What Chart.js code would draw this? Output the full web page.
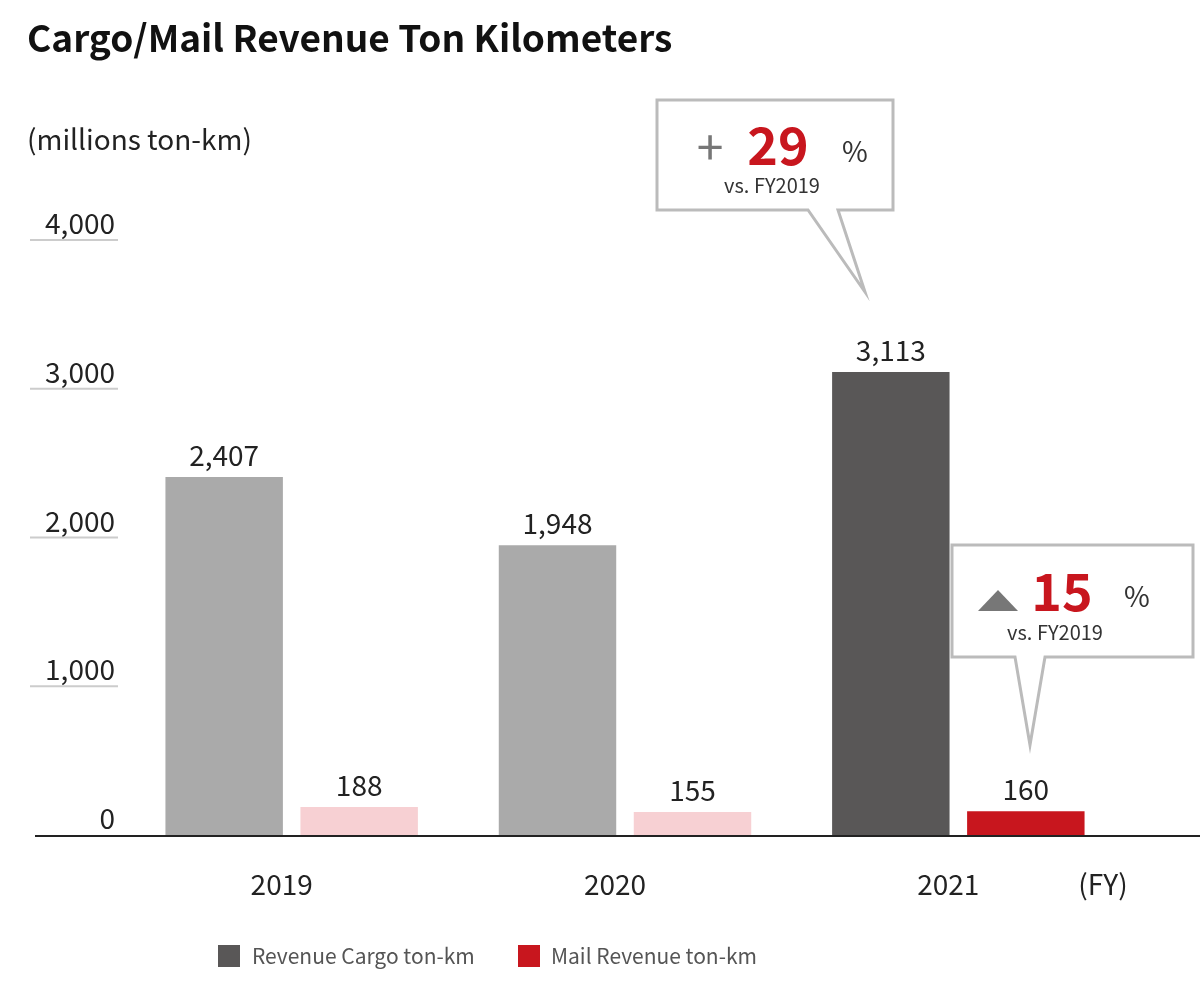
<!DOCTYPE html>
<html><head><meta charset="utf-8">
<script src="https://cdn.jsdelivr.net/npm/chart.js@4"></script>
<style>html,body{margin:0;padding:0;background:#fff}#w{position:absolute;left:0;top:0;width:1200px;height:985px}</style>
</head><body><div id="w"><canvas id="c"></canvas></div>
<script>
const categories = ["2019","2020","2021"];
const cargoValues = [2407,1948,3113];
const mailValues = [188,155,160];
const yTicks = [0,1000,2000,3000,4000];
const cargoLabel = "Revenue Cargo ton-km";
const mailLabel = "Mail Revenue ton-km";
const F = '"Noto Sans CJK JP","Noto Sans",sans-serif';
const fmt = v => v.toLocaleString('en-US');

const deco = {
  id:'deco',
  afterDatasetsDraw(ch){
    const c = ch.ctx, y = ch.scales.y, x = ch.scales.x;
    c.save();
    // title
    c.fillStyle='#111'; c.font='bold 37px '+F; c.textBaseline='alphabetic'; c.textAlign='left';
    c.fillText('Cargo/Mail Revenue Ton Kilometers',27,52);
    c.fillStyle='#222'; c.font='28px '+F;
    c.fillText('(millions ton-km)',27,150);
    // y ticks
    yTicks.forEach(t=>{
      const py = y.getPixelForValue(t);
      c.fillStyle='#222'; c.font='28px '+F; c.textAlign='right';
      c.fillText(fmt(t),115,py-6);
      if(t>0){c.strokeStyle='#ccc';c.lineWidth=2;c.beginPath();c.moveTo(30,py);c.lineTo(118,py);c.stroke();}
    });
    // baseline
    const p0=y.getPixelForValue(0);
    c.strokeStyle='#222';c.lineWidth=2;c.beginPath();c.moveTo(35,p0+1);c.lineTo(1200,p0+1);c.stroke();
    // x labels
    c.textAlign='center'; c.font='28px '+F; c.fillStyle='#222';
    categories.forEach((k,i)=>c.fillText(k,x.getPixelForValue(i)-10,895));
    c.fillText('(FY)',1103,895);
    // value labels
    ch.data.datasets.forEach((ds,di)=>{
      ch.getDatasetMeta(di).data.forEach((b,i)=>{
        c.fillText(fmt(ds.data[i]),b.x,b.y-11);
      });
    });
    // legend
    c.fillStyle='#595757'; c.fillRect(218,945,22,22);
    c.fillStyle='#c8161e'; c.fillRect(518,945,22,22);
    c.fillStyle='#555'; c.font='21px '+F; c.textAlign='left';
    c.fillText(cargoLabel,252,964); c.fillText(mailLabel,551,964);
    // callouts
    function callout(bx,by,bw,bh,t1,t2,tip){
      c.beginPath();
      c.moveTo(bx,by);c.lineTo(bx+bw,by);c.lineTo(bx+bw,by+bh);
      c.lineTo(t2,by+bh);c.lineTo(tip[0],tip[1]);c.lineTo(t1,by+bh);
      c.lineTo(bx,by+bh);c.closePath();
      c.fillStyle='#fff';c.fill();c.strokeStyle='#bbb';c.lineWidth=3;c.stroke();
    }
    callout(657,100,236,110,808,838,[865,292]);
    callout(952,545,241,112,1015,1045,[1030,745]);
    c.fillStyle='#777'; c.font='48px '+F; c.textAlign='center';
    c.fillText('+',710,165);
    c.fillStyle='#c8161e'; c.font='bold 52px '+F;
    c.fillText('29',778,165); c.fillText('15',1062,611);
    c.fillStyle='#333'; c.font='28px '+F;
    c.fillText('%',855,162); c.fillText('%',1137,607);
    c.font='20px '+F;
    c.fillText('vs. FY2019',772,193); c.fillText('vs. FY2019',1055,640);
    c.fillStyle='#777'; c.beginPath(); c.moveTo(998,590);c.lineTo(1018,611);c.lineTo(978,611);c.closePath();c.fill();
    c.restore();
  }
};

new Chart(document.getElementById('c'),{
  type:'bar',
  data:{labels:categories,datasets:[
    {label:cargoLabel,data:cargoValues,backgroundColor:['#aaaaaa','#aaaaaa','#595757']},
    {label:mailLabel,data:mailValues,backgroundColor:['#f7d0d3','#f7d0d3','#c8161e']}
  ]},
  options:{responsive:true,maintainAspectRatio:false,animation:false,
    layout:{padding:{left:125,right:75,top:240,bottom:150}},
    categoryPercentage:0.81,barPercentage:0.87,
    plugins:{legend:{display:false},tooltip:{enabled:false}},
    scales:{x:{display:false},y:{display:false,min:0,max:4000}}
  },
  plugins:[deco]
});
</script></body></html>
